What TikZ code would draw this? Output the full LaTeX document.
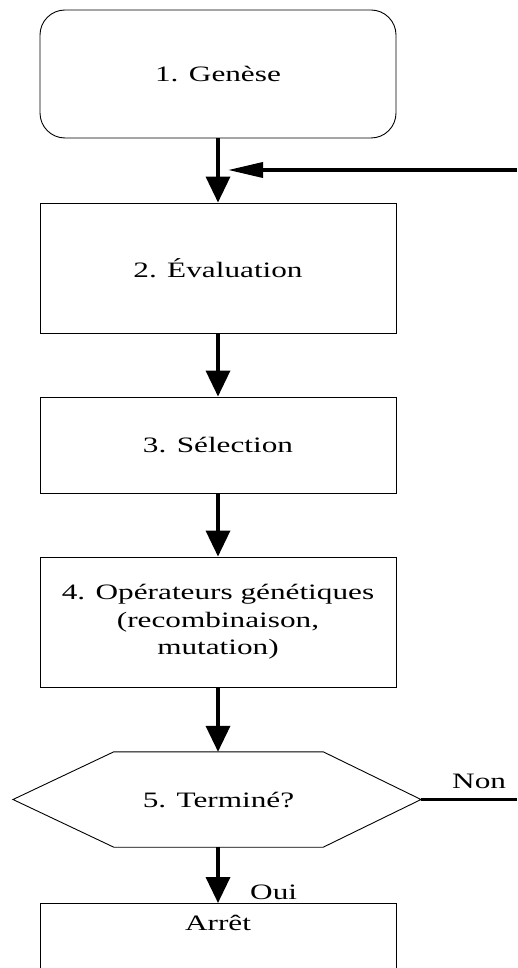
\documentclass[tikz,border=0pt]{standalone}
\usepackage{fontspec}
\setmainfont{Liberation Serif}[FakeStretch=1.42]
\usetikzlibrary{arrows.meta}
\begin{document}
\begin{tikzpicture}[
  x=1pt, y=-1pt,
  every node/.style={font=\fontsize{22}{27.5}\selectfont, inner sep=0pt},
  stepbox/.style={draw, line width=0.9pt, minimum width=356pt},
  startbox/.style={stepbox, rounded corners=25pt},
  flow/.style={line width=3.6pt, -{Triangle[length=26pt, width=24pt]}},
  back/.style={line width=3.6pt, -{Triangle[length=35pt, width=15pt]}},
  plain/.style={line width=3.6pt}
]
  % page frame
  \clip (0,0) rectangle (517,968);
  \fill[white] (0,0) rectangle (517,968);

  % steps of the algorithm
  \node[startbox, minimum height=128pt] (genese) at (218,74) {1. Genèse};
  \node[stepbox, minimum height=130pt] (eval) at (218,268) {2. Évaluation};
  \node[stepbox, minimum height=96pt] (sel) at (218,445) {3. Sélection};
  \node[stepbox, minimum height=130pt, align=center] (ops) at (218,622)
    {4. Opérateurs génétiques\\(recombinaison,\\mutation)};

  % termination test (hexagon around a central block)
  \node[minimum width=209pt, minimum height=95pt] (term) at (218.5,799.5) {5. Terminé?};
  \coordinate (hexL) at (13,799.5);
  \coordinate (hexR) at (421,799.5);
  \draw[line width=0.9pt] (term.north west) -- (term.north east) -- (hexR)
    -- (term.south east) -- (term.south west) -- (hexL) -- cycle;

  % final step, open at the bottom
  \node[stepbox, minimum height=90pt, anchor=north] (stop) at (218,903) {};
  \node (stoptext) at (218,923) {Arrêt};

  % connectors
  \draw[flow] (genese.south) -- (eval.north);
  \draw[flow] (eval.south) -- (sel.north);
  \draw[flow] (sel.south) -- (ops.north);
  \draw[flow] (ops.south) -- (term.north -| ops.south);
  \draw[flow] (term.south -| stop.north) -- (stop.north);

  % loop back from "Non" into the evaluation step
  \coordinate (loopin) at (517,170);
  \coordinate (merge) at (228,170);
  \draw[back] (loopin) -- (merge);
  \coordinate (nonend) at (517,799.5);
  \draw[plain] (hexR) -- (nonend);

  % branch labels
  \node[anchor=base west] (non) at (452,788) {Non};
  \node[anchor=base west] (oui) at (250,899) {Oui};
\end{tikzpicture}
\end{document}
